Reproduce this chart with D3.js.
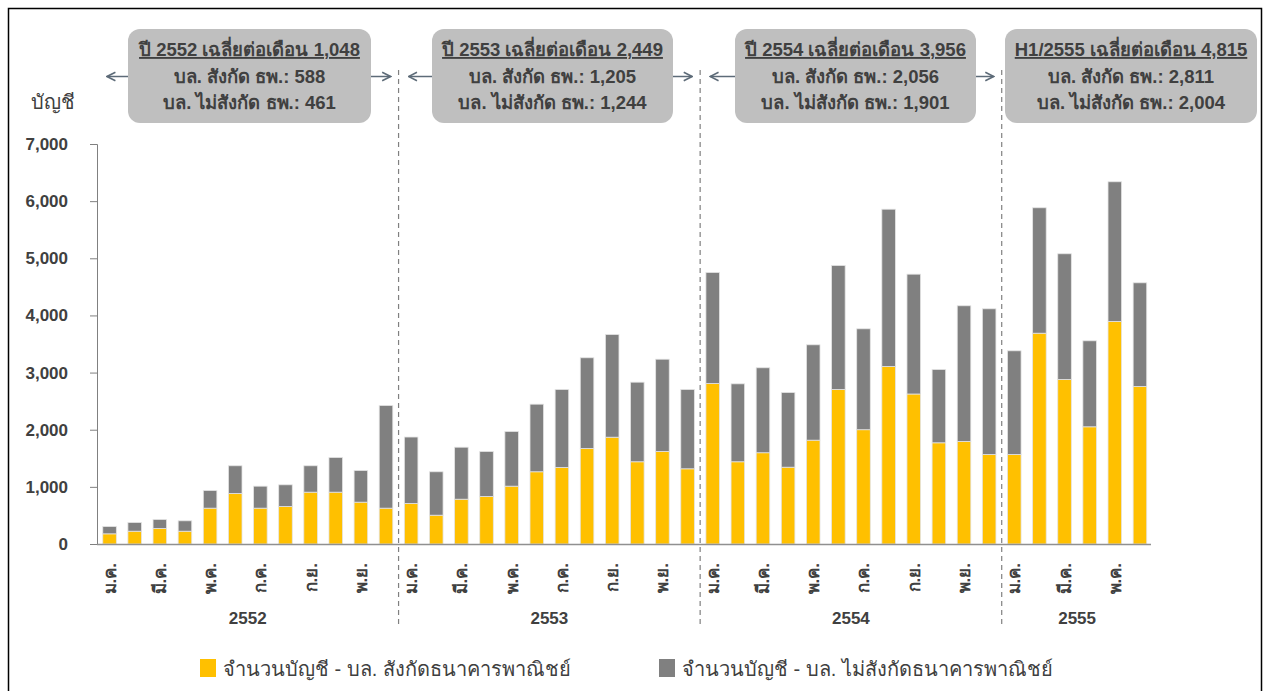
<!DOCTYPE html>
<html>
<head>
<meta charset="utf-8">
<script src="https://cdn.jsdelivr.net/npm/d3@7"></script>
<style>
  body { margin: 0; background: #fff; }
  svg { font-family: "Liberation Sans", Arial, "DejaVu Sans", sans-serif; }
</style>
</head>
<body>
<div id="chart"></div>
<script>
// ---- data ----
const years = ['2552', '2553', '2554', '2555'];
const monthsPerYear = [12, 12, 12, 6];
const monthNames = ['ม.ค.', 'ก.พ.', 'มี.ค.', 'เม.ย.', 'พ.ค.', 'มิ.ย.', 'ก.ค.', 'ส.ค.', 'ก.ย.', 'ต.ค.', 'พ.ย.', 'ธ.ค.'];

// accounts - bank affiliated (yellow)
const affiliated = [
  178, 224, 271, 224, 627, 884, 627, 656, 907, 907, 732, 627,
  709, 504, 784, 831, 1012, 1264, 1339, 1671, 1869, 1439, 1619, 1316,
  2809, 1439, 1597, 1344, 1817, 2704, 2000, 3106, 2625, 1771, 1794, 1566,
  1566, 3689, 2879, 2051, 3894, 2756
];
// accounts - not bank affiliated (grey)
const nonAffiliated = [
  128, 152, 158, 182, 309, 485, 385, 380, 462, 607, 554, 1797,
  1163, 760, 910, 788, 957, 1183, 1365, 1588, 1797, 1393, 1615, 1388,
  1943, 1364, 1487, 1307, 1669, 2170, 1766, 2753, 2097, 1283, 2375, 2550,
  1815, 2195, 2200, 1505, 2445, 1815
];

const yTicks = [0, 1000, 2000, 3000, 4000, 5000, 6000, 7000];

const boxTitles = ['ปี 2552 เฉลี่ยต่อเดือน 1,048', 'ปี 2553 เฉลี่ยต่อเดือน 2,449', 'ปี 2554 เฉลี่ยต่อเดือน 3,956', 'H1/2555 เฉลี่ยต่อเดือน 4,815'];
const boxLine2 = ['บล. สังกัด ธพ.: 588', 'บล. สังกัด ธพ.: 1,205', 'บล. สังกัด ธพ.: 2,056', 'บล. สังกัด ธพ.: 2,811'];
const boxLine3 = ['บล. ไม่สังกัด ธพ.: 461', 'บล. ไม่สังกัด ธพ.: 1,244', 'บล. ไม่สังกัด ธพ.: 1,901', 'บล. ไม่สังกัด ธพ.: 2,004'];

const seriesNames = ['จำนวนบัญชี - บล. สังกัดธนาคารพาณิชย์', 'จำนวนบัญชี - บล. ไม่สังกัดธนาคารพาณิชย์'];
const colors = ['#FFC000', '#808080'];

// ---- build rows ----
const rows = [];
years.forEach((yr, yi) => {
  for (let m = 0; m < monthsPerYear[yi]; m++) {
    const i = rows.length;
    rows.push({ key: i, year: yr, month: monthNames[m], m, a: affiliated[i], b: nonAffiliated[i] });
  }
});

const W = 1268, H = 691;
const textCol = '#404040';

const svg = d3.select('#chart').append('svg')
  .attr('width', W).attr('height', H);

// outer frame
svg.append('rect')
  .attr('x', 8.5).attr('y', 8.5)
  .attr('width', 1253).attr('height', 700)
  .attr('fill', 'none').attr('stroke', '#000').attr('stroke-width', 1.5);

const x = d3.scaleBand()
  .domain(rows.map(d => d.key))
  .range([97, 1152.5])
  .paddingInner(0.46)
  .paddingOuter(0.23);

const y = d3.scaleLinear().domain([0, 7000]).range([544, 144]);

// stacked bars
const stack = d3.stack().keys(['a', 'b'])(rows);
svg.append('g').selectAll('g')
  .data(stack)
  .join('g')
  .attr('fill', (d, i) => colors[i])
  .selectAll('rect')
  .data(d => d)
  .join('rect')
  .attr('x', d => x(d.data.key))
  .attr('width', x.bandwidth())
  .attr('y', d => y(d[1]))
  .attr('height', d => y(d[0]) - y(d[1]))
  .attr('stroke', '#e4e4e4')
  .attr('stroke-width', 0.8);

// y axis
const yAxis = svg.append('g')
  .attr('transform', 'translate(97,0)')
  .call(d3.axisLeft(y).tickValues(yTicks).tickFormat(d3.format(',')).tickSizeOuter(0).tickSize(7).tickPadding(22));
yAxis.select('.domain').attr('stroke', '#808080');
yAxis.selectAll('.tick line').attr('stroke', '#808080');
yAxis.selectAll('.tick text')
  .attr('fill', textCol).attr('font-size', 17).attr('font-weight', 'bold');

svg.append('text')
  .attr('x', 53).attr('y', 109)
  .attr('text-anchor', 'middle')
  .attr('fill', textCol).attr('font-size', 20)
  .text('บัญชี');

// x axis line
svg.append('line')
  .attr('x1', 97).attr('x2', 1151)
  .attr('y1', 544.5).attr('y2', 544.5)
  .attr('stroke', '#909090').attr('stroke-width', 1.5);

// month labels (every other month), rotated
svg.append('g').selectAll('text')
  .data(rows.filter(d => d.m % 2 === 0))
  .join('text')
  .attr('transform', d => `translate(${x(d.key) + x.bandwidth() / 2 + 6},563) rotate(-90)`)
  .attr('text-anchor', 'end')
  .attr('fill', textCol).attr('font-size', 17).attr('font-weight', 'bold')
  .text(d => d.month);

// year groups
const groups = years.map((yr, yi) => {
  const items = rows.filter(d => d.year === yr);
  const x0 = x(items[0].key) - x.step() * x.paddingInner() / 2;
  const x1 = x(items[items.length - 1].key) + x.bandwidth() + x.step() * x.paddingInner() / 2;
  return { yr, yi, x0, x1 };
});

svg.append('g').selectAll('text')
  .data(groups)
  .join('text')
  .attr('x', d => (d.x0 + d.x1) / 2)
  .attr('y', 624)
  .attr('text-anchor', 'middle')
  .attr('fill', textCol).attr('font-size', 17).attr('font-weight', 'bold')
  .text(d => d.yr);

// dashed separators between years
svg.append('g').selectAll('line')
  .data(groups.slice(1))
  .join('line')
  .attr('x1', d => d.x0).attr('x2', d => d.x0)
  .attr('y1', 70).attr('y2', 625)
  .attr('stroke', '#808080').attr('stroke-width', 1.2)
  .attr('stroke-dasharray', '5,4');

// arrow marker
svg.append('defs').append('marker')
  .attr('id', 'arr')
  .attr('viewBox', '0 0 10 10')
  .attr('refX', 9).attr('refY', 5)
  .attr('markerWidth', 7).attr('markerHeight', 7)
  .attr('orient', 'auto-start-reverse')
  .append('path')
  .attr('d', 'M1,1 L9,5 L1,9')
  .attr('fill', 'none').attr('stroke', '#5d6b78').attr('stroke-width', 1.5);

// annotation boxes
const boxX = [128, 432, 735, 1005];
const boxW = [243, 241, 241, 252];
const box = svg.append('g').selectAll('g')
  .data(groups)
  .join('g')
  .attr('transform', d => `translate(${boxX[d.yi]},29)`);

box.append('rect')
  .attr('width', d => boxW[d.yi]).attr('height', 94)
  .attr('rx', 12)
  .attr('fill', '#bfbfbf');

const boxText = (sel, yPos, arr, underline) => sel.append('text')
  .attr('x', d => boxW[d.yi] / 2).attr('y', yPos)
  .attr('text-anchor', 'middle')
  .attr('fill', textCol).attr('font-size', 18.5).attr('font-weight', 'bold')
  .attr('text-decoration', underline ? 'underline' : null)
  .text(d => arr[d.yi]);
boxText(box, 27, boxTitles, true);
boxText(box, 54, boxLine2, false);
boxText(box, 80, boxLine3, false);

// arrows from boxes to year bounds (not for the last half-year)
const arrows = [];
groups.slice(0, 3).forEach(g => {
  arrows.push({ from: boxX[g.yi], to: g.x0 + 10 });
  arrows.push({ from: boxX[g.yi] + boxW[g.yi], to: g.x1 - 8 });
});
svg.append('g').selectAll('line')
  .data(arrows)
  .join('line')
  .attr('x1', d => d.from).attr('x2', d => d.to)
  .attr('y1', 76.5).attr('y2', 76.5)
  .attr('stroke', '#5d6b78').attr('stroke-width', 1.5)
  .attr('marker-end', 'url(#arr)');

// legend
const legend = svg.append('g').selectAll('g')
  .data(seriesNames)
  .join('g')
  .attr('transform', (d, i) => `translate(${[200, 659][i]},659)`);
legend.append('rect')
  .attr('width', 16).attr('height', 18)
  .attr('fill', (d, i) => colors[i]);
legend.append('text')
  .attr('x', 23).attr('y', 17)
  .attr('fill', textCol).attr('font-size', 20)
  .text(d => d);
</script>
</body>
</html>
